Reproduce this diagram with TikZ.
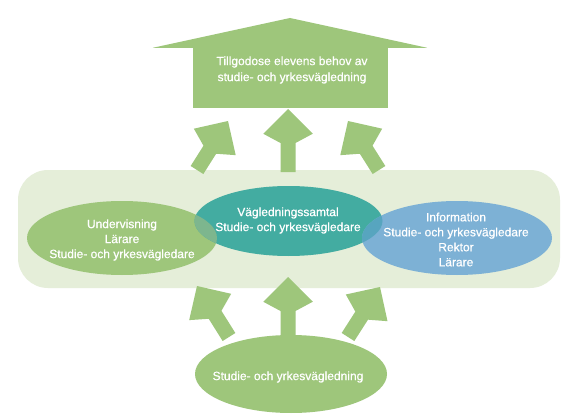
\documentclass[tikz,border=0pt]{standalone}
\usepackage{fontspec}
\setmainfont{Liberation Sans}
\newfontfamily\medfont{Liberation Sans}[RawFeature={embolden=0.6}]
\usetikzlibrary{calc,shapes.geometric}
\definecolor{vgreen}{HTML}{9EC67B}
\definecolor{bandgreen}{HTML}{E5EED9}
\definecolor{vteal}{HTML}{43ACA1}
\definecolor{vblue}{HTML}{7DB1D5}
\definecolor{mixgt}{HTML}{7DB68E}
\definecolor{mixtb}{HTML}{57A5BF}
\newcommand\blockarrow[2]{%
  \coordinate (ba-c) at ($(#2)!34pt!(#1)$);
  \fill[vgreen] ($(#1)!7.5pt!90:(#2)$) -- ($(ba-c)!7.5pt!-90:(#1)$) -- ($(#2)!35pt!-45:(#1)$) -- (#2)
    -- ($(#2)!35pt!45:(#1)$) -- ($(ba-c)!7.5pt!90:(#1)$) -- ($(#1)!7.5pt!-90:(#2)$) -- cycle;}
\tikzset{
  txt/.style={text=white, font=\medfont\fontsize{12}{15}\selectfont, align=center, inner sep=0pt},
  ellbox/.style={ellipse, inner sep=0pt, draw=none},
}
\begin{document}
\begin{tikzpicture}[x=1pt,y=-1pt]
\useasboundingbox (0,0) rectangle (571,420);
\fill[white] (0,0) rectangle (571,420);
% band
\node[fill=bandgreen, rounded corners=30pt, minimum width=542pt, minimum height=118pt, inner sep=0pt] (band) at (289,229) {};
% goal house
\node[fill=vgreen, minimum width=195pt, minimum height=60pt, inner sep=0pt] (goalbox) at (290.5,78) {};
\coordinate (apex) at (290,18);
\fill[vgreen] ($(goalbox.north west)+(-40,0)$) -- (apex) -- ($(goalbox.north east)+(39,0)$) -- cycle;
\node[txt, font=\medfont\fontsize{12}{16}\selectfont] (goal) at (292,70) {Tillgodose elevens behov av\\studie- och yrkesvägledning};
% ellipses
\node[ellbox, fill=vgreen, minimum width=190pt, minimum height=74pt] (under) at (122,238) {};
\node[ellbox, fill=vteal, minimum width=188pt, minimum height=70pt] (samtal) at (288.5,221) {};
\node[ellbox, fill=vblue, minimum width=190pt, minimum height=74pt] (info) at (457,238) {};
\begin{scope}
  \clip (122,238) ellipse [x radius=95pt, y radius=37pt];
  \fill[mixgt] (288.5,221) ellipse [x radius=94pt, y radius=35pt];
\end{scope}
\begin{scope}
  \clip (457,238) ellipse [x radius=95pt, y radius=37pt];
  \fill[mixtb] (288.5,221) ellipse [x radius=94pt, y radius=35pt];
\end{scope}
\node[ellbox, fill=vgreen, minimum width=192pt, minimum height=78pt] (source) at (291,374) {};
% texts
\node[txt] (undertxt) at (122,240) {Undervisning\\Lärare\\Studie- och yrkesvägledare};
\node[txt] (samtaltxt) at (288,220.5) {Vägledningssamtal\\Studie- och yrkesvägledare};
\node[txt] (infotxt) at (456,239.5) {Information\\Studie- och yrkesvägledare\\Rektor\\Lärare};
\node[txt] (sourcetxt) at (288,377) {Studie- och yrkesvägledning};
% arrow end points
\coordinate (u1a) at (197,170); \coordinate (u1b) at (228,121);
\coordinate (u2a) at (288,172); \coordinate (u2b) at (288,109);
\coordinate (u3a) at (379,170); \coordinate (u3b) at (348,121);
\coordinate (d1a) at (229,337); \coordinate (d1b) at (197,286);
\coordinate (d2a) at (288,337); \coordinate (d2b) at (288,277);
\coordinate (d3a) at (348,337); \coordinate (d3b) at (380,287);
\blockarrow{u1a}{u1b}
\blockarrow{u2a}{u2b}
\blockarrow{u3a}{u3b}
\blockarrow{d1a}{d1b}
\blockarrow{d2a}{d2b}
\blockarrow{d3a}{d3b}
\end{tikzpicture}
\end{document}
